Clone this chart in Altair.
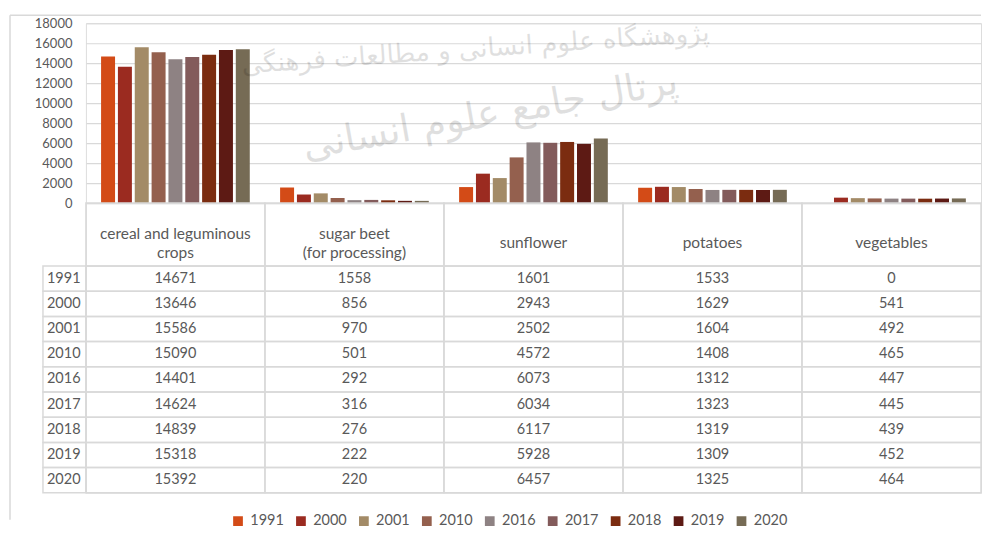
import altair as alt
import pandas as pd

FONT = "Lato"
TXT = "#595959"
GRID = "#d9d9d9"

categories = ["cereal and leguminous crops", "sugar beet (for processing)", "sunflower", "potatoes", "vegetables"]
header_labels = ["cereal and leguminous\ncrops", "sugar beet\n(for processing)", "sunflower", "potatoes", "vegetables"]
years = ["1991", "2000", "2001", "2010", "2016", "2017", "2018", "2019", "2020"]

cereal = [14671, 13646, 15586, 15090, 14401, 14624, 14839, 15318, 15392]
sugar_beet = [1558, 856, 970, 501, 292, 316, 276, 222, 220]
sunflower = [1601, 2943, 2502, 4572, 6073, 6034, 6117, 5928, 6457]
potatoes = [1533, 1629, 1604, 1408, 1312, 1323, 1319, 1309, 1325]
vegetables = [0, 541, 492, 465, 447, 445, 439, 452, 464]

colors = ["#d34b17", "#9b2b20", "#a38b67", "#94604e", "#8e8283",
          "#835b5b", "#7b2c10", "#5d1a14", "#766b55"]

watermark_1 = "پژوهشگاه علوم انسانی و مطالعات فرهنگی"
watermark_2 = "پرتال جامع علوم انسانی"

series = [cereal, sugar_beet, sunflower, potatoes, vegetables]
rows = []
for cat, vals in zip(categories, series):
    for yr, v in zip(years, vals):
        rows.append({"cat": cat, "year": yr, "value": v, "label": str(v)})
df = pd.DataFrame(rows)

W = 896
BAR_H = 180
HDR_H = 63
BODY_H = 227

X_cat = alt.X("cat:N", sort=categories,
              scale=alt.Scale(domain=categories, paddingInner=0, paddingOuter=0),
              axis=None)

bars = alt.Chart(df).mark_bar().encode(
    x=X_cat,
    xOffset=alt.XOffset("year:N", sort=years,
                        scale=alt.Scale(domain=years, paddingInner=0.17, paddingOuter=0.9)),
    y=alt.Y("value:Q", scale=alt.Scale(domain=[0, 18000], nice=False),
            axis=alt.Axis(values=list(range(0, 18001, 2000)), format="d", title=None,
                          domain=False, ticks=False, labelPadding=14, grid=True,
                          gridColor=GRID, gridWidth=1.2, labelColor=TXT,
                          labelFontSize=13, labelFont=FONT)),
    color=alt.Color("year:N", sort=years, scale=alt.Scale(domain=years, range=colors),
                    legend=alt.Legend(title=None, orient="none", legendX=145, legendY=491,
                                      direction="horizontal", symbolType="square",
                                      symbolSize=95, symbolStrokeWidth=0,
                                      labelFont=FONT, labelFontSize=14.5, labelColor=TXT,
                                      labelOffset=5, columnPadding=9)),
)

one = alt.Chart(pd.DataFrame({"k": [0]}))
frame_left = one.mark_rule(color=GRID, strokeWidth=1.5).encode(
    x=alt.value(-76), y=alt.value(-8), y2=alt.value(497))
frame_top = one.mark_rule(color=GRID, strokeWidth=1.5).encode(
    x=alt.value(-76), x2=alt.value(W), y=alt.value(-8))

wm1 = alt.Chart(pd.DataFrame({"t": [watermark_1]})).mark_text(
    font="DejaVu Sans", fontSize=26, color="#000000", opacity=0.12, angle=356
).encode(x=alt.value(390), y=alt.value(26), text="t:N")
wm2 = alt.Chart(pd.DataFrame({"t": [watermark_2]})).mark_text(
    font="DejaVu Sans", fontSize=38, color="#000000", opacity=0.12, angle=350
).encode(x=alt.value(405), y=alt.value(92), text="t:N")

top = alt.layer(bars, frame_left, frame_top, wm1, wm2).properties(width=W, height=BAR_H)

hdf = pd.DataFrame({"cat": categories, "label": header_labels})
hdf["lines"] = hdf["label"].str.count("\n") + 1
hdr_rect = alt.Chart(hdf).mark_rect(fill="transparent", stroke=GRID, strokeWidth=1.5).encode(
    x=X_cat, y=alt.value(0), y2=alt.value(HDR_H))
hdr_text2 = alt.Chart(hdf).transform_filter("datum.lines > 1").mark_text(
    lineBreak="\n", lineHeight=19, font=FONT, fontSize=15.5, color=TXT, baseline="middle"
).encode(x=X_cat, y=alt.value(31), text="label:N")
hdr_text1 = alt.Chart(hdf).transform_filter("datum.lines == 1").mark_text(
    font=FONT, fontSize=15.5, color=TXT, baseline="middle"
).encode(x=X_cat, y=alt.value(40), text="label:N")
header = alt.layer(hdr_rect, hdr_text2, hdr_text1).properties(width=W, height=HDR_H)

Y_year = alt.Y("year:N", sort=years,
               scale=alt.Scale(domain=years, paddingInner=0, paddingOuter=0), axis=None)
body_rect = alt.Chart(df).mark_rect(fill="transparent", stroke=GRID, strokeWidth=1.5).encode(
    x=X_cat, y=Y_year)
body_text = alt.Chart(df).mark_text(font=FONT, fontSize=14.5, color=TXT).encode(
    x=X_cat, y=Y_year, text="label:N")
ydf = pd.DataFrame({"year": years})
year_rect = alt.Chart(ydf).mark_rect(fill="transparent", stroke=GRID, strokeWidth=1.5).encode(
    x=alt.value(-43), x2=alt.value(0), y=Y_year)
year_text = alt.Chart(ydf).mark_text(font=FONT, fontSize=14.5, color=TXT, align="left").encode(
    x=alt.value(-39), y=Y_year, text="year:N")
body = alt.layer(body_rect, body_text, year_rect, year_text).properties(width=W, height=BODY_H)

chart = alt.vconcat(top, header, body, spacing=0, bounds="flush").resolve_scale(
    x="independent", y="independent"
).properties(
    padding={"left": 0, "top": 5, "right": 0, "bottom": 0}
).configure_view(strokeWidth=0).configure(font=FONT)

chart.save("out.html", embed_options={"renderer": "svg", "actions": False})
